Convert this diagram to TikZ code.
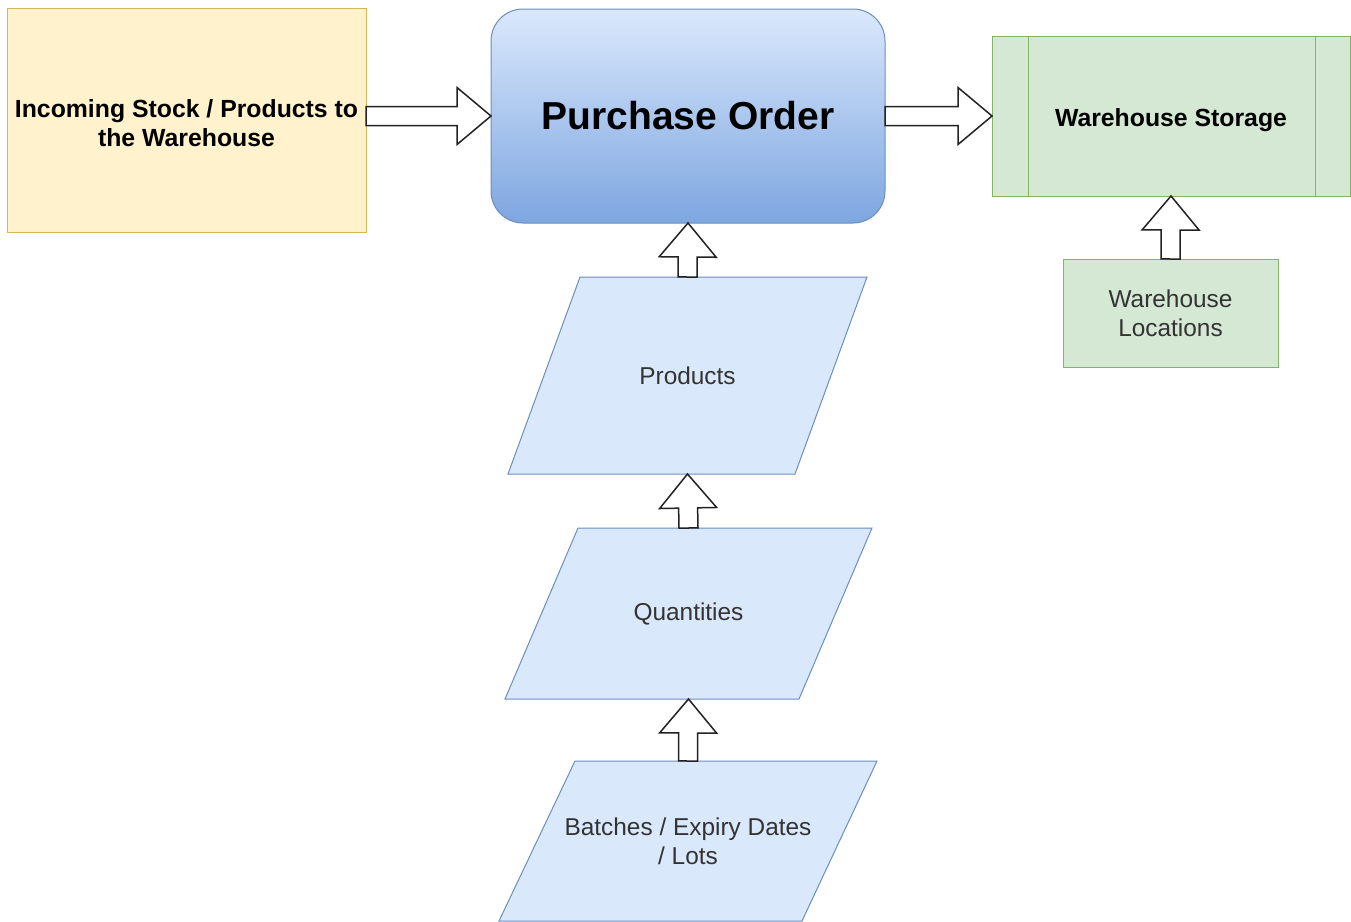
\documentclass[tikz,border=0pt]{standalone}
\usepackage{fontspec}
\setmainfont{Liberation Sans}
\usetikzlibrary{calc}
\definecolor{yelF}{HTML}{FFF2CC}
\definecolor{yelD}{HTML}{D6B656}
\definecolor{bluF}{HTML}{DAE8FC}
\definecolor{bluD}{HTML}{6C8EBF}
\definecolor{bluG}{HTML}{7EA6E0}
\definecolor{grnF}{HTML}{D5E8D4}
\definecolor{grnD}{HTML}{82B366}
\definecolor{txtgray}{HTML}{333333}
\definecolor{arrline}{HTML}{222222}
\newcommand\blockarrow[2]{%
  \path ($(#2)!17pt!(#1)$) coordinate (bac);
  \draw[blockarr] ($(#1)!4.75pt!90:(#2)$) -- ($(bac)!4.75pt!90:(#2)$)
    -- ($(bac)!14.25pt!90:(#2)$) -- (#2) -- ($(bac)!14.25pt!-90:(#2)$)
    -- ($(bac)!4.75pt!-90:(#2)$) -- ($(#1)!4.75pt!-90:(#2)$) -- cycle;}
\begin{document}
\begin{tikzpicture}[x=0.5pt,y=-0.5pt,
  boldtext/.style={font=\fontsize{12.4}{14.5}\selectfont\bfseries, text=black, align=center},
  regtext/.style={font=\fontsize{12.2}{14.5}\selectfont, text=txtgray},
  yelbox/.style={draw=yelD, fill=yelF, line width=0.5pt, inner sep=0pt, outer sep=0pt, align=center},
  grnbox/.style={draw=grnD, fill=grnF, line width=0.5pt, inner sep=0pt, outer sep=0pt, align=center},
  pobox/.style={draw=bluD, top color=bluF, bottom color=bluG, line width=0.5pt,
    rounded corners=16pt, inner sep=0pt, outer sep=0pt,
    font=\fontsize{19.5}{23}\selectfont\bfseries, text=black},
  paratext/.style={regtext, inner sep=0pt, outer sep=0pt, align=center},
  para/.style={draw=bluD, fill=bluF, line width=0.5pt},
  blockarr/.style={draw=arrline, fill=white, line width=0.75pt, line join=miter}]
\useasboundingbox (0,0) rectangle (1351,922);

% parallelogram outlines
\draw[para] (580,277) -- (867,277) -- (795,474) -- (508,474) -- cycle;
\draw[para] (578,528) -- (872,528) -- (799,699) -- (505,699) -- cycle;
\draw[para] (575,761) -- (877,761) -- (802,921) -- (499,921) -- cycle;

% nodes
\node[yelbox, minimum width=179.5pt, minimum height=112pt] (in) at (186.5,120) {};
\node[boldtext] (intext) at ([yshift=-1.5pt]in.center) {Incoming Stock / Products to\\the Warehouse};
\node[pobox, minimum width=197pt, minimum height=107pt] (po) at (688,116) {Purchase Order};
\node[grnbox, minimum width=179pt, minimum height=80pt] (ws) at (1171,116) {};
\node[boldtext] (wstext) at ([yshift=-2pt]ws.center) {Warehouse Storage};
\draw[grnD, line width=0.5pt] ([xshift=18pt]ws.north west) -- ([xshift=18pt]ws.south west);
\draw[grnD, line width=0.5pt] ([xshift=-17.5pt]ws.north east) -- ([xshift=-17.5pt]ws.south east);
\node[grnbox, regtext, minimum width=107.5pt, minimum height=54pt] (wl) at (1170.5,313)
  {Warehouse\\Locations};
\node[paratext, minimum height=98.5pt] (prod) at (687.5,375.5) {Products};
\node[paratext, minimum height=85.5pt] (qty) at (688.5,613.5) {Quantities};
\node[paratext, minimum height=80pt] (bat) at (688,841) {Batches / Expiry Dates\\/ Lots};

% block arrows
\blockarrow{in.east |- po.west}{po.west}
\blockarrow{po.east}{ws.west}
\blockarrow{prod.north}{po.south}
\blockarrow{qty.north}{prod.south}
\blockarrow{bat.north}{qty.south}
\blockarrow{wl.north}{ws.south}
\end{tikzpicture}
\end{document}
